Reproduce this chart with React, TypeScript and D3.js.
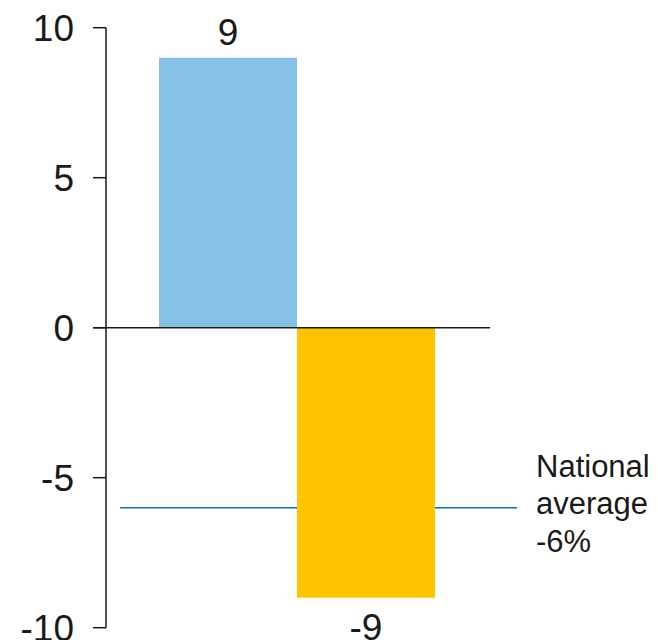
import React from "react";
import * as d3 from "d3";

// Change versus previous period, in percent
const categories = ["Local area", "Comparison area"];
const values = [9, -9];
const barColors = ["#85C1E6", "#FCC500"];
const yTicks = [10, 5, 0, -5, -10];
const nationalAverage = -6;
const nationalLabel = ["National", "average", "-6%"];

const W = 658;
const H = 640;
const FONT = "'Liberation Sans', Arial, sans-serif";

export default function App() {
  const y = d3.scaleLinear().domain([-10, 10]).range([627.7, 27.7]);
  const x = d3.scaleBand<string>().domain(categories).range([159, 435]).padding(0);
  const axisX = 106;
  const tickLen = 13;
  const avgY = y(nationalAverage);

  return (
    <svg
      width={W}
      height={H}
      style={{ position: "absolute", left: 0, top: 0 }}
      fontFamily={FONT}
    >
      {/* national average reference line, behind the bars */}
      <line x1={120} x2={517} y1={avgY} y2={avgY} stroke="#0070C0" strokeWidth={1.5} />

      {categories.map((c, i) => {
        const v = values[i];
        const top = y(Math.max(0, v));
        const h = Math.abs(y(v) - y(0));
        return (
          <g key={c}>
            <rect x={x(c)} y={top} width={x.bandwidth()} height={h} fill={barColors[i]} />
            <text
              x={(x(c) as number) + x.bandwidth() / 2}
              y={v >= 0 ? y(v) - 12.7 : y(v) + 42.5}
              textAnchor="middle"
              fontSize={37}
              fill="#1a1a1a"
            >
              {String(v)}
            </text>
          </g>
        );
      })}

      {/* zero baseline */}
      <line x1={axisX - tickLen} x2={490} y1={y(0)} y2={y(0)} stroke="#1a1a1a" strokeWidth={1.5} />

      {/* y axis */}
      <line x1={axisX} x2={axisX} y1={y(10)} y2={y(-10)} stroke="#1a1a1a" strokeWidth={1.5} />
      {yTicks.map((t) => (
        <g key={t}>
          <line x1={axisX - tickLen} x2={axisX} y1={y(t)} y2={y(t)} stroke="#1a1a1a" strokeWidth={1.5} />
          <text
            x={74}
            y={y(t) + 13.4}
            textAnchor="end"
            fontSize={37}
            fill="#1a1a1a"
          >
            {String(t)}
          </text>
        </g>
      ))}

      {/* national average label */}
      <text x={536} y={476.7} fontSize={31} fill="#1a1a1a">
        {nationalLabel.map((s, i) => (
          <tspan key={s} x={536} dy={i === 0 ? 0 : 37.5}>
            {s}
          </tspan>
        ))}
      </text>
    </svg>
  );
}
